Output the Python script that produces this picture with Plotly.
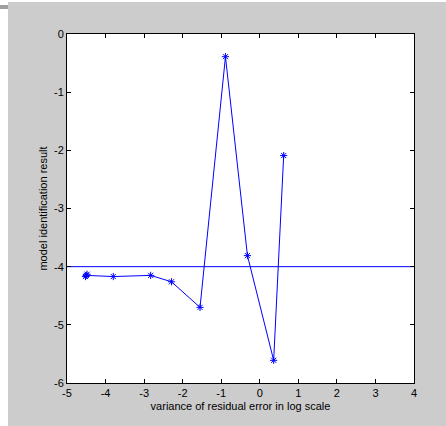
import plotly.graph_objects as go

x_vals = [-4.52, -4.48, -4.50, -3.80, -2.83, -2.29, -1.55, -0.89, -0.32, 0.36, 0.62]
y_vals = [-4.17, -4.13, -4.15, -4.17, -4.15, -4.26, -4.70, -0.39, -3.81, -5.61, -2.09]
ref_x = [-5, 4]
ref_y = [-4, -4]
x_ticks = [-5, -4, -3, -2, -1, 0, 1, 2, 3, 4]
y_ticks = [0, -1, -2, -3, -4, -5, -6]

W, H = 438, 424
L, R, T, B = 59, 32, 32, 43

fig = go.Figure()
fig.add_trace(go.Scatter(x=ref_x, y=ref_y, mode="lines",
                         line=dict(color="#0000ff", width=1), showlegend=False))
fig.add_trace(go.Scatter(x=x_vals, y=y_vals, mode="lines+markers",
                         line=dict(color="#0000ff", width=1),
                         marker=dict(symbol="asterisk-open", size=6,
                                     line=dict(color="#0000ff", width=1)),
                         showlegend=False))

font = "Liberation Sans, Arial, sans-serif"
axis_common = dict(showgrid=False, zeroline=False, showline=True, linecolor="black",
                   linewidth=1, mirror="ticks", ticks="inside", ticklen=4,
                   tickcolor="black", tickfont=dict(family=font, size=11, color="black"))

fig.update_layout(
    width=W, height=H,
    margin=dict(l=L, r=R, t=T, b=B),
    paper_bgcolor="#cccccc", plot_bgcolor="white",
    xaxis=dict(range=[-5, 4], tickvals=x_ticks, ticktext=[str(v) for v in x_ticks],
               title=dict(text="variance of residual error in log scale",
                          font=dict(family=font, size=11, color="black"), standoff=4),
               **axis_common),
    yaxis=dict(range=[-6, 0], tickvals=y_ticks, ticktext=[str(v) for v in y_ticks],
               title=dict(text="model identification result",
                          font=dict(family=font, size=11, color="black"), standoff=4),
               **axis_common),
)

fig.write_html("out.html",
               post_script="document.body.style.margin='2px 0 0 8px';"
                           "var d=document.createElement('div');"
                           "d.style.cssText='position:fixed;left:0;top:5px;width:8px;height:4px;background:#a0a0a0;z-index:1000';"
                           "document.body.appendChild(d);")
